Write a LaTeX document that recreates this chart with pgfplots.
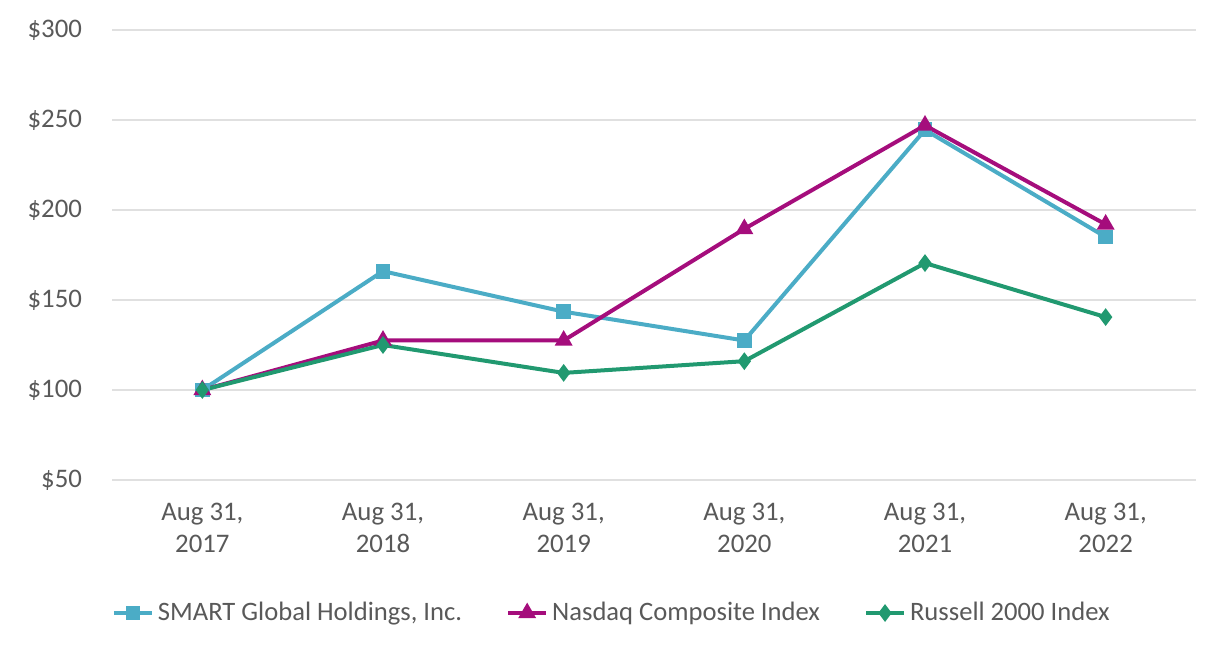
\documentclass[border=0pt]{standalone}
\usepackage{pgfplots}
\pgfplotsset{compat=1.18}
\usepackage{fontspec}
\setmainfont{Carlito}
\definecolor{smart}{HTML}{4BACC6}
\definecolor{nasdaq}{HTML}{A50D7C}
\definecolor{russell}{HTML}{219970}
\definecolor{txt}{HTML}{595959}
\definecolor{grd}{HTML}{E0E0E0}
\begin{document}
\begin{tikzpicture}
\begin{axis}[
  at={(56pt,94pt)}, anchor=south west,
  scale only axis, width=542pt, height=225pt,
  xmin=-0.5, xmax=5.5, ymin=50, ymax=300,
  ytick={50,100,150,200,250,300},
  yticklabels={\$50,\$100,\$150,\$200,\$250,\$300},
  xtick={0,1,2,3,4,5},
  xticklabels={{Aug 31,\\2017},{Aug 31,\\2018},{Aug 31,\\2019},{Aug 31,\\2020},{Aug 31,\\2021},{Aug 31,\\2022}},
  xticklabel style={align=center, yshift=-8pt, font=\fontsize{13.4}{16.2}\selectfont, text=txt},
  yticklabel style={xshift=-11.5pt, font=\fontsize{13.4}{16.2}\selectfont, text=txt},
  axis line style={draw=none},
  major tick length=0pt,
  ymajorgrids, grid style={grd, line width=1.1pt},
  clip=false,
  legend columns=3,
  legend style={draw=none, fill=none, at={(0.462,-0.2956)}, anchor=center,
    font=\fontsize{13.3}{16.2}\selectfont, text=txt,
    /tikz/every even column/.append style={column sep=20pt}},
  legend image code/.code={\draw[mark repeat=2,mark phase=2] plot coordinates {(0pt,0pt) (9.5pt,0pt) (19pt,0pt)};},
]
\addplot[smart, line width=2pt, mark=square*, mark size=2.7pt, mark options={solid}] coordinates {
(0,100) (1,166) (2,143.5) (3,127.5) (4,244.5) (5,185)};
\addlegendentry{SMART Global Holdings, Inc.}
\addplot[nasdaq, line width=2pt, mark=triangle*, mark size=3.2pt, mark options={solid}] coordinates {
(0,100) (1,127.5) (2,127.5) (3,189.5) (4,247) (5,192)};
\addlegendentry{Nasdaq Composite Index}
\addplot[russell, line width=2pt, mark=diamond*, mark size=2.8pt, mark options={solid}] coordinates {
(0,100) (1,125) (2,109.5) (3,116) (4,170.5) (5,140.5)};
\addlegendentry{Russell 2000 Index}
\end{axis}
\pgfresetboundingbox
\path[use as bounding box] (0,0) rectangle (613pt,334pt);
\end{tikzpicture}
\end{document}
